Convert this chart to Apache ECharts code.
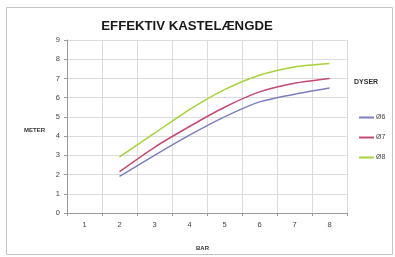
<!DOCTYPE html>
<html><head><meta charset="utf-8">
<script src="https://cdn.jsdelivr.net/npm/echarts@6/dist/echarts.min.js"></script>
<style>html,body{margin:0;padding:0;background:#fff}#c{width:395px;height:257px}</style>
</head><body><div id="c"></div>
<script>
const categories = ['1','2','3','4','5','6','7','8'];
const seriesNames = ['Ø6','Ø7','Ø8'];
const d6 = [null,1.9,3.0,4.05,5.0,5.78,6.18,6.5];
const d7 = [null,2.15,3.42,4.5,5.5,6.3,6.75,7.0];
const d8 = [null,2.92,4.15,5.38,6.42,7.17,7.6,7.78];
const colors = ['#7b7fc0','#c44a72','#a6d23c'];
const chart = echarts.init(document.getElementById('c'));
const lbl = {fontFamily:'Liberation Sans, Arial', fontSize:7.5, color:'#444'};
chart.setOption({
  animation:false,
  title:{text:'EFFEKTIV KASTELÆNGDE', left:182, top:15, textAlign:'center',
    textStyle:{fontFamily:'Liberation Sans, Arial', fontSize:13.2, fontWeight:'bold', color:'#1a1a1a'}},
  graphic:[
    {type:'rect', shape:{x:6.5,y:7.5,width:386,height:247}, style:{fill:'none', stroke:'#c4c4c4', lineWidth:1}, silent:true},
    {type:'text', left:354, top:79, style:{text:'DYSER', font:'bold 7px Liberation Sans, Arial', fill:'#333'}},
    {type:'text', left:24, top:127, style:{text:'METER', font:'bold 6px Liberation Sans, Arial', fill:'#333'}},
    {type:'text', left:196, top:245, style:{text:'BAR', font:'bold 6px Liberation Sans, Arial', fill:'#333'}}
  ],
  grid:{left:67, right:48, top:40, bottom:44},
  legend:{orient:'vertical', left:354, top:109, itemGap:13, itemWidth:15, itemHeight:2,
    icon:'rect', data:seriesNames, textStyle:{...lbl, fontSize:7, padding:[0,0,0,-3]}},
  xAxis:{type:'category', data:categories, boundaryGap:true,
    axisLine:{lineStyle:{color:'#999'}}, axisTick:{show:true, length:3, lineStyle:{color:'#999'}},
    axisLabel:{...lbl, margin:8},
    splitLine:{show:true, lineStyle:{color:'#dcdcdc'}}},
  yAxis:{type:'value', min:0, max:9, interval:1,
    axisLine:{show:true, lineStyle:{color:'#999'}}, axisTick:{show:true, length:3, lineStyle:{color:'#999'}},
    axisLabel:{...lbl, margin:7},
    splitLine:{lineStyle:{color:'#dcdcdc'}}},
  series:[
    {name:seriesNames[0], type:'line', data:d6, smooth:0.25, symbol:'none', lineStyle:{width:1.5, color:colors[0]}, itemStyle:{color:colors[0]}},
    {name:seriesNames[1], type:'line', data:d7, smooth:0.25, symbol:'none', lineStyle:{width:1.5, color:colors[1]}, itemStyle:{color:colors[1]}},
    {name:seriesNames[2], type:'line', data:d8, smooth:0.25, symbol:'none', lineStyle:{width:1.5, color:colors[2]}, itemStyle:{color:colors[2]}}
  ]
});
</script></body></html>
